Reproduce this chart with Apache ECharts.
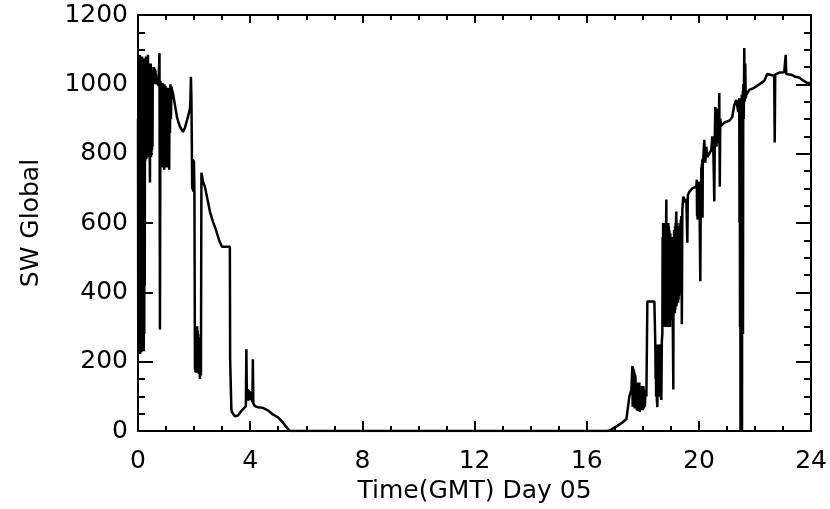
<!DOCTYPE html>
<html>
<head>
<meta charset="utf-8">
<script src="https://cdn.jsdelivr.net/npm/echarts@6/dist/echarts.min.js"></script>
<style>
html, body { margin: 0; padding: 0; background: #fff; }
#main { width: 830px; height: 509px; }
</style>
</head>
<body>
<div id="main"></div>
<script>
// SW Global irradiance, Day 05, [hour GMT, value]
var morning = [
  [0.000, 900], [0.009, 230], [0.018, 1060], [0.027, 240], [0.036, 1070], [0.045, 225],
  [0.054, 1080], [0.063, 230], [0.071, 1085], [0.080, 222], [0.089, 1075], [0.098, 235],
  [0.107, 1060], [0.116, 228], [0.125, 1070], [0.134, 260], [0.142, 1080], [0.151, 240],
  [0.160, 1065], [0.169, 300], [0.178, 1050], [0.187, 250], [0.196, 1070], [0.205, 230],
  [0.214, 1075], [0.223, 280], [0.232, 1050], [0.241, 420], [0.249, 1040], [0.258, 780],
  [0.267, 1075], [0.276, 790], [0.285, 1080], [0.294, 785], [0.303, 1070], [0.312, 800],
  [0.320, 1060], [0.329, 790], [0.338, 1080], [0.347, 800], [0.356, 1085], [0.365, 810],
  [0.374, 1060], [0.383, 800], [0.392, 1050], [0.401, 790], [0.410, 1040], [0.418, 790],
  [0.427, 717], [0.436, 1050], [0.445, 800], [0.454, 1060], [0.463, 790], [0.472, 1050],
  [0.481, 800], [0.490, 1040], [0.499, 810], [0.508, 1030], [0.517, 820], [0.526, 1020],
  [0.534, 1004], [0.552, 1040], [0.561, 1000], [0.570, 1050], [0.579, 1000], [0.588, 1040],
  [0.597, 1004], [0.605, 1045], [0.614, 1000], [0.623, 1040], [0.632, 1004], [0.641, 1030],
  [0.659, 1000], [0.677, 1020], [0.695, 1000], [0.712, 1010], [0.730, 995], [0.748, 1000],
  [0.766, 1090], [0.783, 293], [0.801, 1010], [0.810, 820], [0.819, 1000], [0.828, 800],
  [0.837, 1000], [0.846, 770], [0.855, 990], [0.864, 760], [0.872, 1004], [0.881, 780],
  [0.890, 995], [0.899, 770], [0.908, 990], [0.917, 760], [0.926, 1000], [0.935, 754],
  [0.944, 1000], [0.953, 770], [0.962, 995], [0.971, 790], [0.980, 995], [0.989, 800],
  [0.997, 990], [1.006, 780], [1.015, 990], [1.024, 760], [1.033, 985], [1.042, 790],
  [1.051, 985], [1.060, 820], [1.068, 980], [1.077, 800], [1.086, 980], [1.095, 760],
  [1.104, 990], [1.113, 754], [1.122, 990], [1.140, 860], [1.158, 1000], [1.175, 900],
  [1.193, 993], [1.211, 985], [1.246, 975], [1.318, 940], [1.389, 906], [1.443, 890],
  [1.496, 878], [1.603, 863], [1.674, 875], [1.781, 906], [1.852, 930], [1.870, 955],
  [1.887, 1022], [1.905, 960], [1.923, 791], [1.932, 700], [1.941, 785], [1.950, 695],
  [1.959, 785], [1.968, 690], [1.977, 780], [1.986, 690], [1.994, 780], [2.012, 688],
  [2.030, 178], [2.039, 300], [2.048, 170], [2.057, 295], [2.066, 175], [2.075, 300],
  [2.084, 168], [2.093, 290], [2.101, 170], [2.110, 302], [2.119, 180], [2.128, 290],
  [2.137, 175], [2.146, 280], [2.155, 170], [2.164, 270], [2.172, 165], [2.190, 260],
  [2.208, 150], [2.226, 250], [2.244, 160], [2.262, 745], [2.279, 748], [2.315, 720],
  [2.386, 705], [2.493, 662], [2.564, 633], [2.671, 604], [2.778, 581], [2.885, 552],
  [2.991, 532], [3.098, 532], [3.276, 532], [3.285, 207], [3.312, 207], [3.330, 63],
  [3.348, 55], [3.454, 43], [3.561, 45], [3.704, 60], [3.846, 72], [3.864, 236],
  [3.882, 95], [3.917, 121], [3.935, 88], [3.953, 118], [3.971, 90], [3.989, 115],
  [4.007, 92], [4.025, 110], [4.043, 95], [4.060, 100], [4.078, 83], [4.095, 207],
  [4.113, 80], [4.167, 72], [4.274, 69], [4.452, 67], [4.630, 60], [4.808, 48],
  [4.986, 40], [5.164, 25], [5.306, 10], [5.413, 0]
];

var night = [[6, 0], [10, 0], [14, 0], [16.738, 0]];

var afternoon = [
  [16.880, 5], [17.094, 15], [17.272, 25], [17.415, 35], [17.521, 100], [17.593, 120],
  [17.628, 188], [17.637, 70], [17.646, 185], [17.655, 75], [17.664, 180], [17.673, 70],
  [17.682, 175], [17.691, 80], [17.700, 170], [17.709, 65], [17.718, 165], [17.727, 70],
  [17.735, 160], [17.753, 65], [17.770, 140], [17.788, 60], [17.806, 140], [17.824, 58],
  [17.841, 135], [17.859, 60], [17.877, 140], [17.895, 55], [17.913, 130], [17.931, 60],
  [17.949, 130], [17.967, 62], [17.984, 128], [18.002, 60], [18.020, 130], [18.038, 65],
  [18.056, 120], [18.074, 70], [18.091, 110], [18.127, 100], [18.162, 374], [18.412, 374],
  [18.447, 245], [18.456, 150], [18.465, 250], [18.474, 100], [18.483, 240], [18.501, 90],
  [18.519, 69], [18.537, 250], [18.554, 255], [18.572, 110], [18.590, 100], [18.607, 240],
  [18.625, 250], [18.643, 100], [18.661, 90], [18.679, 260], [18.697, 280], [18.705, 560],
  [18.714, 300], [18.723, 600], [18.732, 310], [18.741, 600], [18.750, 300], [18.759, 580],
  [18.768, 310], [18.777, 590], [18.786, 320], [18.795, 580], [18.803, 300], [18.812, 560],
  [18.821, 320], [18.830, 600], [18.839, 668], [18.848, 340], [18.857, 600], [18.866, 310],
  [18.875, 600], [18.884, 300], [18.892, 590], [18.901, 320], [18.910, 600], [18.919, 310],
  [18.928, 590], [18.937, 300], [18.946, 580], [18.955, 320], [18.964, 570], [18.973, 300],
  [18.981, 570], [18.990, 320], [18.999, 560], [19.008, 330], [19.017, 560], [19.026, 320],
  [19.035, 560], [19.044, 330], [19.053, 560], [19.070, 300], [19.088, 120], [19.097, 560],
  [19.106, 340], [19.115, 580], [19.124, 350], [19.133, 580], [19.142, 340], [19.151, 590],
  [19.160, 350], [19.168, 600], [19.177, 360], [19.186, 610], [19.195, 633], [19.204, 360],
  [19.213, 600], [19.222, 370], [19.231, 600], [19.240, 380], [19.249, 590], [19.258, 370],
  [19.267, 590], [19.275, 380], [19.284, 580], [19.293, 390], [19.302, 580], [19.311, 400],
  [19.320, 590], [19.329, 400], [19.338, 600], [19.346, 410], [19.355, 610], [19.364, 420],
  [19.373, 620], [19.391, 308], [19.409, 640], [19.444, 676], [19.480, 680], [19.516, 660],
  [19.551, 670], [19.587, 543], [19.605, 680], [19.658, 690], [19.765, 700], [19.907, 705],
  [19.925, 725], [19.934, 620], [19.943, 720], [19.952, 610], [19.961, 720], [19.970, 610],
  [19.979, 715], [19.997, 620], [20.014, 720], [20.050, 432], [20.068, 700], [20.077, 620],
  [20.085, 760], [20.094, 615], [20.103, 770], [20.112, 620], [20.121, 783], [20.130, 615],
  [20.139, 780], [20.157, 790], [20.192, 840], [20.228, 774], [20.264, 820], [20.299, 790],
  [20.370, 800], [20.442, 811], [20.477, 850], [20.513, 820], [20.549, 662], [20.566, 840],
  [20.584, 935], [20.593, 830], [20.602, 920], [20.611, 830], [20.620, 920], [20.628, 820],
  [20.637, 930], [20.646, 830], [20.655, 930], [20.664, 840], [20.673, 920], [20.682, 840],
  [20.691, 930], [20.708, 850], [20.726, 975], [20.744, 705], [20.762, 900], [20.798, 880],
  [20.905, 890], [21.083, 895], [21.189, 906], [21.261, 940], [21.332, 955], [21.403, 920],
  [21.439, 960], [21.448, 600], [21.457, 950], [21.466, 300], [21.474, 950], [21.483, 0],
  [21.492, 960], [21.501, 0], [21.510, 960], [21.519, 0], [21.528, 970], [21.537, 0],
  [21.545, 970], [21.554, 280], [21.563, 980], [21.572, 280], [21.581, 1000], [21.599, 900],
  [21.617, 1105], [21.634, 950], [21.652, 1060], [21.670, 960], [21.688, 970], [21.795, 984],
  [21.973, 990], [22.151, 1000], [22.329, 1010], [22.436, 1030], [22.578, 1027], [22.685, 1025],
  [22.703, 832], [22.721, 1028], [22.863, 1034], [23.041, 1035], [23.095, 1085], [23.113, 1030],
  [23.291, 1028], [23.433, 1022], [23.575, 1020], [23.682, 1013], [23.860, 1004], [24.000, 1004]
];

var xTicks = { min: 0, max: 24, interval: 4 };
var yTicks = { min: 0, max: 1200, interval: 200 };

var labelFont = { color: '#000', fontFamily: 'DejaVu Sans', fontSize: 25 };

function plain(v) { return String(v); }

function xAxisCfg(pos, showLabel) {
  return {
    type: 'value', position: pos, min: xTicks.min, max: xTicks.max, interval: xTicks.interval,
    name: showLabel ? 'Time(GMT) Day 05' : '', nameLocation: 'middle', nameGap: 45,
    nameTextStyle: labelFont,
    axisLine: { show: true, onZero: false, lineStyle: { color: '#000', width: 2 } },
    axisTick: { show: true, inside: true, length: showLabel ? 10 : 8, lineStyle: { color: '#000', width: 2 } },
    minorTick: { show: true, splitNumber: 4, length: 5, lineStyle: { color: '#000', width: 2 } },
    axisLabel: Object.assign({ show: showLabel, margin: 18, formatter: plain }, labelFont),
    splitLine: { show: false }
  };
}

function yAxisCfg(pos, showLabel) {
  return {
    type: 'value', position: pos, min: yTicks.min, max: yTicks.max, interval: yTicks.interval,
    name: showLabel ? 'SW Global' : '', nameLocation: 'middle', nameGap: 94,
    nameTextStyle: labelFont,
    axisLine: { show: true, onZero: false, lineStyle: { color: '#000', width: 2 } },
    axisTick: { show: true, inside: true, length: 15, lineStyle: { color: '#000', width: 2 } },
    minorTick: { show: true, splitNumber: 4, length: 7, lineStyle: { color: '#000', width: 2 } },
    axisLabel: Object.assign({ show: showLabel, margin: 10, formatter: plain }, labelFont),
    splitLine: { show: false }
  };
}

var myChart = echarts.init(document.getElementById('main'));
var option = {
  animation: false,
  backgroundColor: '#fff',
  grid: { left: 138, top: 15, width: 674, height: 417 },
  xAxis: [xAxisCfg('bottom', true), xAxisCfg('top', false)],
  yAxis: [yAxisCfg('left', true), yAxisCfg('right', false)],
  series: [{
    type: 'line',
    xAxisIndex: 0, yAxisIndex: 0,
    data: morning.concat(night, afternoon),
    showSymbol: false,
    lineStyle: { color: '#000', width: 2.5 },
    clip: true
  }]
};
myChart.setOption(option);
</script>
</body>
</html>
